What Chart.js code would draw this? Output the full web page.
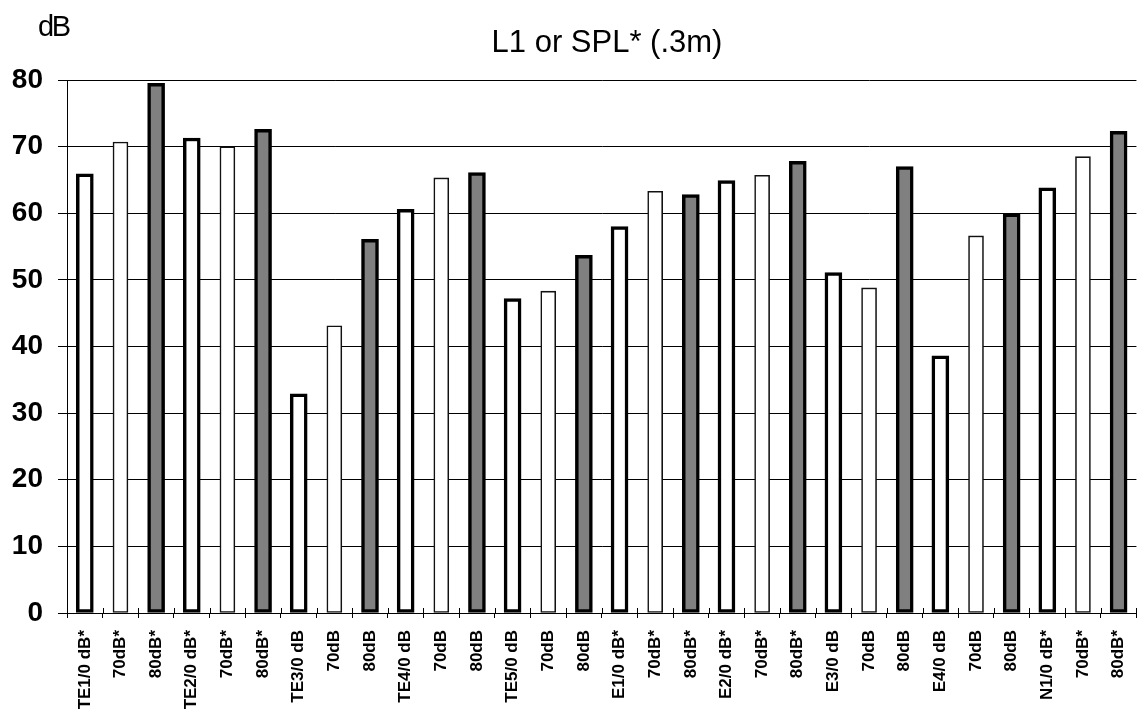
<!DOCTYPE html>
<html>
<head>
<meta charset="utf-8">
<script src="https://cdn.jsdelivr.net/npm/chart.js@4.4.1/dist/chart.umd.min.js"></script>
<style>
  html, body { margin: 0; padding: 0; background: #fff; overflow: hidden; }
  #wrap { position: absolute; left: 0; top: 0; width: 1151px; height: 713px; }
</style>
</head>
<body>
<div id="wrap"><canvas id="c" width="1151" height="713"></canvas></div>
<script>
const categories = ['TE1/0 dB*','70dB*','80dB*','TE2/0 dB*','70dB*','80dB*',
  'TE3/0 dB','70dB','80dB','TE4/0 dB','70dB','80dB','TE5/0 dB','70dB','80dB',
  'E1/0 dB*','70dB*','80dB*','E2/0 dB*','70dB*','80dB*',
  'E3/0 dB','70dB','80dB','E4/0 dB','70dB','80dB','N1/0 dB*','70dB*','80dB*'];
const values = [65.9,70.7,79.5,71.3,70.0,72.6,32.9,43.1,56.1,60.6,65.3,66.1,47.2,48.3,53.7,
  58.0,63.3,62.8,64.9,65.7,67.8,51.1,48.8,67.0,38.6,56.6,59.9,63.8,68.5,72.3];
const levels = ['0 dB','70 dB','80 dB'];
const yTicks = [0,10,20,30,40,50,60,70,80];
const titleText = 'L1 or SPL* (.3m)';
const unitText = 'dB';

const FONT = "'Liberation Sans', Arial, sans-serif";

function pick(k) { return values.map((v, i) => (i % 3 === k ? v : null)); }

const styles = [
  { backgroundColor: '#ffffff', borderColor: '#000000', borderWidth: 3.5, barThickness: 17 },
  { backgroundColor: '#ffffff', borderColor: '#111111', borderWidth: 1.6, barThickness: 15 },
  { backgroundColor: '#808080', borderColor: '#000000', borderWidth: 3.5, barThickness: 17 }
];

const datasets = levels.map((lv, k) => Object.assign({
  label: lv, data: pick(k), borderSkipped: false, grouped: false
}, styles[k]));

const decor = {
  id: 'decor',
  afterDraw(chart) {
    const ctx = chart.ctx, a = chart.chartArea;
    ctx.save();
    const n = categories.length, w = (a.right - a.left) / n;
    ctx.strokeStyle = '#000'; ctx.lineWidth = 1;
    ctx.beginPath();
    for (let i = 0; i <= n; i++) {
      const x = Math.round(a.left + i * w) + 0.5;
      ctx.moveTo(x, a.bottom - 5); ctx.lineTo(x, a.bottom);
    }
    ctx.stroke();
    ctx.fillStyle = '#000';
    ctx.font = '31px ' + FONT;
    ctx.textAlign = 'center'; ctx.textBaseline = 'alphabetic';
    ctx.fillText(titleText, 607, 52);
    ctx.font = '29px ' + FONT;
    ctx.textAlign = 'left';
    try { ctx.letterSpacing = '-2.5px'; } catch (e) {}
    ctx.fillText(unitText, 38, 36);
    ctx.restore();
  }
};

new Chart(document.getElementById('c'), {
  type: 'bar',
  data: { labels: categories, datasets },
  plugins: [decor],
  options: {
    responsive: false,
    animation: false,
    devicePixelRatio: 1,
    layout: { padding: { top: 80, left: 0, right: 0, bottom: 0 } },
    plugins: { legend: { display: false }, tooltip: { enabled: false }, title: { display: false } },
    scales: {
      x: {
        offset: true,
        grid: { display: true, drawOnChartArea: false, drawTicks: true, tickLength: 5, color: '#000', lineWidth: 1, offset: true },
        border: { display: true, color: '#000', width: 1 },
        ticks: {
          autoSkip: false, minRotation: 90, maxRotation: 90, padding: 12,
          color: '#000', font: { family: FONT, size: 17, weight: 'bold' }
        },
        afterFit(s) { s.height = 100; }
      },
      y: {
        min: 0, max: 80,
        afterBuildTicks(s) { s.ticks = yTicks.map(v => ({ value: v })); },
        grid: { color: '#000', lineWidth: 1, tickLength: 9, drawTicks: true },
        border: { display: true, color: '#000', width: 1 },
        ticks: { padding: 15, color: '#000', font: { family: FONT, size: 28, weight: 'bold' } },
        afterFit(s) { s.width = 67; }
      }
    }
  }
});
</script>
</body>
</html>
